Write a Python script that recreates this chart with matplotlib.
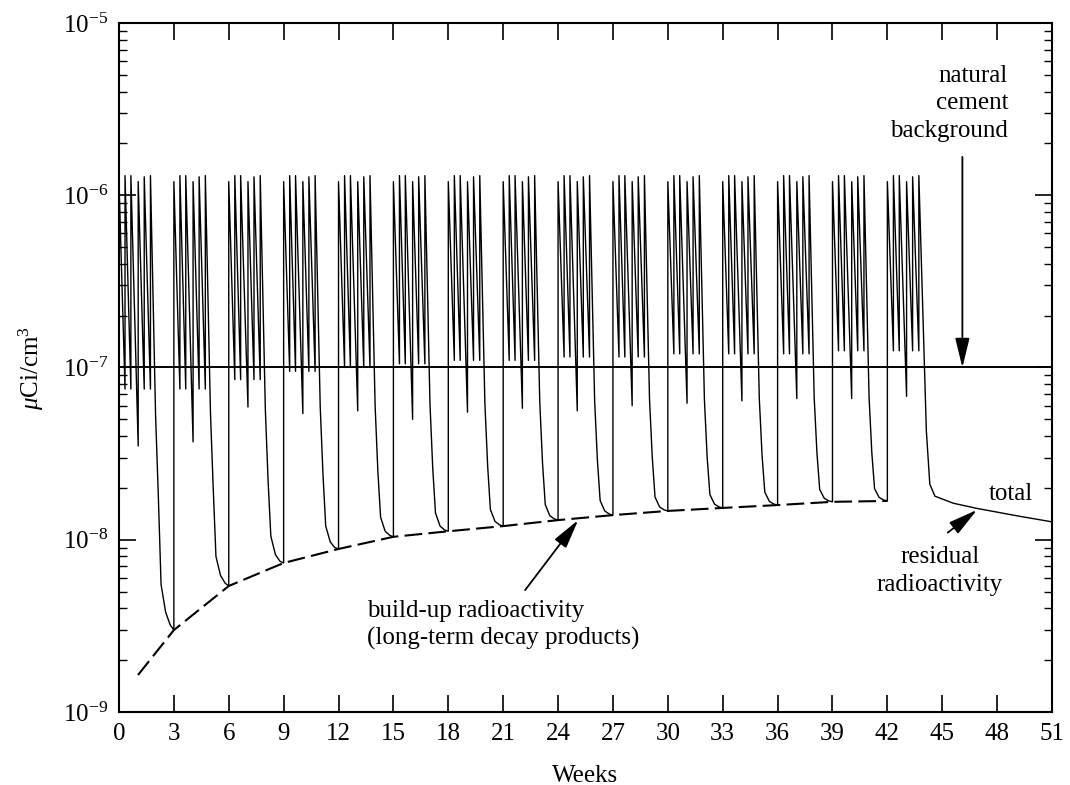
import matplotlib.pyplot as plt
from matplotlib.ticker import NullLocator, FixedLocator, NullFormatter

plt.rcParams['font.family'] = ['Liberation Serif', 'DejaVu Serif']
plt.rcParams['mathtext.fontset'] = 'custom'
plt.rcParams['mathtext.rm'] = 'Liberation Serif'
plt.rcParams['mathtext.it'] = 'Liberation Serif:italic'

# --- data (weeks, uCi/cm3) ---
cycle_starts = [0, 3, 6, 9, 12, 15, 18, 21, 24, 27, 30, 33, 36, 39, 42]

# spikes inside each 3-week cycle (offset from cycle start) and their peaks
spike_offsets = [0.0, 0.33, 0.65, 1.05, 1.38, 1.72]
spike_peaks = [1.2e-6, 1.3e-6, 1.3e-6, 1.2e-6, 1.28e-6, 1.3e-6]

# minima between spikes: weekday gaps and the longer weekend gap
trough_weekday = [7.5e-8, 7.5e-8, 8.5e-8, 9.5e-8, 1.0e-7, 1.05e-7, 1.1e-7, 1.1e-7,
                  1.15e-7, 1.15e-7, 1.2e-7, 1.2e-7, 1.2e-7, 1.25e-7, 1.25e-7]
trough_weekend = [3.5e-8, 3.7e-8, 5.9e-8, 5.4e-8, 5.6e-8, 5.0e-8, 5.5e-8, 5.8e-8,
                  5.6e-8, 6.0e-8, 6.2e-8, 6.4e-8, 6.6e-8, 6.6e-8, 6.8e-8]

# decay after the last spike of a cycle, down to the next cycle start
tail_offsets = [2.0, 2.15, 2.3, 2.55, 2.8]
tail_values = [
    [5.3e-8, 1.8e-8, 5.5e-9, 3.8e-9, 3.2e-9],
    [5.5e-8, 2.0e-8, 8.0e-9, 6.2e-9, 5.6e-9],
    [5.7e-8, 2.2e-8, 1.05e-8, 8.2e-9, 7.5e-9],
    [5.9e-8, 2.4e-8, 1.2e-8, 9.7e-9, 9.0e-9],
    [6.0e-8, 2.5e-8, 1.35e-8, 1.12e-8, 1.06e-8],
    [6.1e-8, 2.6e-8, 1.43e-8, 1.20e-8, 1.14e-8],
    [6.2e-8, 2.7e-8, 1.5e-8, 1.28e-8, 1.22e-8],
    [6.3e-8, 2.8e-8, 1.6e-8, 1.38e-8, 1.32e-8],
    [6.4e-8, 2.9e-8, 1.69e-8, 1.47e-8, 1.41e-8],
    [6.5e-8, 3.0e-8, 1.77e-8, 1.55e-8, 1.49e-8],
    [6.5e-8, 3.0e-8, 1.83e-8, 1.61e-8, 1.55e-8],
    [6.6e-8, 3.1e-8, 1.89e-8, 1.67e-8, 1.61e-8],
    [6.7e-8, 3.2e-8, 1.96e-8, 1.74e-8, 1.68e-8],
    [6.7e-8, 3.2e-8, 1.98e-8, 1.76e-8, 1.70e-8],
]

# build-up (long-term decay products), dashed
buildup_weeks = [1.04, 3, 6, 9, 12, 15, 18, 21, 24, 27, 30, 33, 36, 39, 42]
buildup_values = [1.64e-9, 2.99e-9, 5.39e-9, 7.33e-9, 8.84e-9, 1.04e-8, 1.12e-8, 1.20e-8,
                  1.30e-8, 1.39e-8, 1.47e-8, 1.53e-8, 1.59e-8, 1.66e-8, 1.68e-8]

# after the last cycle: decay to the residual radioactivity
final_weeks = [44.13, 44.32, 44.6, 45.6, 46.9, 49.2, 51.0]
final_values = [4.3e-8, 2.1e-8, 1.79e-8, 1.63e-8, 1.52e-8, 1.37e-8, 1.27e-8]

background_level = 1.0e-7

# axis ticks
x_ticks = list(range(0, 52, 3))
y_major = [1e-9, 1e-8, 1e-7, 1e-6, 1e-5]
y_minor = [k * d for d in [1e-9, 1e-8, 1e-7, 1e-6] for k in range(2, 10)]

# --- assemble the total curve from the read points ---
weeks, vals = [], []
for c, s in enumerate(cycle_starts):
    troughs = [trough_weekday[c], trough_weekday[c], trough_weekend[c],
               trough_weekday[c], trough_weekday[c]]
    if c > 0:
        weeks.append(s)
        vals.append(buildup_values[c])
    for i, off in enumerate(spike_offsets):
        if i > 0:
            weeks.append(s + off)
            vals.append(troughs[i - 1])
        weeks.append(s + off)
        vals.append(spike_peaks[i])
    if c < len(tail_values):
        for off, v in zip(tail_offsets, tail_values[c]):
            weeks.append(s + off)
            vals.append(v)
    else:
        weeks += final_weeks
        vals += final_values

fig = plt.figure(figsize=(10.7, 7.85), dpi=100)
ax = fig.add_axes([0.1112, 0.0930, 0.8720, 0.8777])

ax.plot(weeks, vals, color='black', lw=1.0)
ax.plot(buildup_weeks, buildup_values, color='black', lw=1.5, linestyle=(0, (8.5, 3)))
ax.axhline(background_level, color='black', lw=1.4)

ax.set_yscale('log')
ax.set_ylim(1e-9, 1e-5)
ax.set_xlim(0, 51)
ax.set_xticks(x_ticks)
ax.xaxis.set_minor_locator(NullLocator())
ax.yaxis.set_major_locator(FixedLocator(y_major))
ax.yaxis.set_minor_locator(FixedLocator(y_minor))
ax.yaxis.set_minor_formatter(NullFormatter())

ax.tick_params(which='major', direction='in', top=True, right=True, length=12,
               width=1.2, labelsize=18, pad=8)
ax.tick_params(which='minor', direction='in', right=True, length=6, width=1.0)
for sp in ax.spines.values():
    sp.set_linewidth(1.5)

ax.set_ylabel(r'$\mu$Ci/cm$^3$', fontsize=18, labelpad=12)
ax.set_xlabel('Weeks', fontsize=18, labelpad=14)

def axy(px):
    return (712 - px) / 689

def axx(px):
    return (px - 119) / 933

tr = ax.transAxes
for txt, yb in [('natural', 82), ('cement', 109), ('background', 137)]:
    ax.text(axx(1008), axy(yb), txt, transform=tr, ha='right', va='baseline', fontsize=18)
ax.text(axx(1033), axy(500), 'total', transform=tr, ha='right', va='baseline', fontsize=18)
for txt, yb in [('residual', 563), ('radioactivity', 591)]:
    ax.text(axx(940), axy(yb), txt, transform=tr, ha='center', va='baseline', fontsize=18)
for txt, yb in [('build-up radioactivity', 617), ('(long-term decay products)', 645)]:
    ax.text(axx(367), axy(yb), txt, transform=tr, ha='left', va='baseline', fontsize=18)

arrow = dict(arrowstyle='-|>,head_length=0.9,head_width=0.22', color='black', lw=1.3,
             mutation_scale=20, shrinkA=0, shrinkB=0)
ax.annotate('', xy=(46.1, background_level), xytext=(46.1, 1.67e-6), arrowprops=arrow)
ax.annotate('', xy=(25.1, 1.30e-8), xytext=(22.2, 5.1e-9), arrowprops=arrow)
ax.annotate('', xy=(46.9, 1.49e-8), xytext=(45.3, 1.1e-8), arrowprops=arrow)

fig.savefig('out.png', dpi=100)
